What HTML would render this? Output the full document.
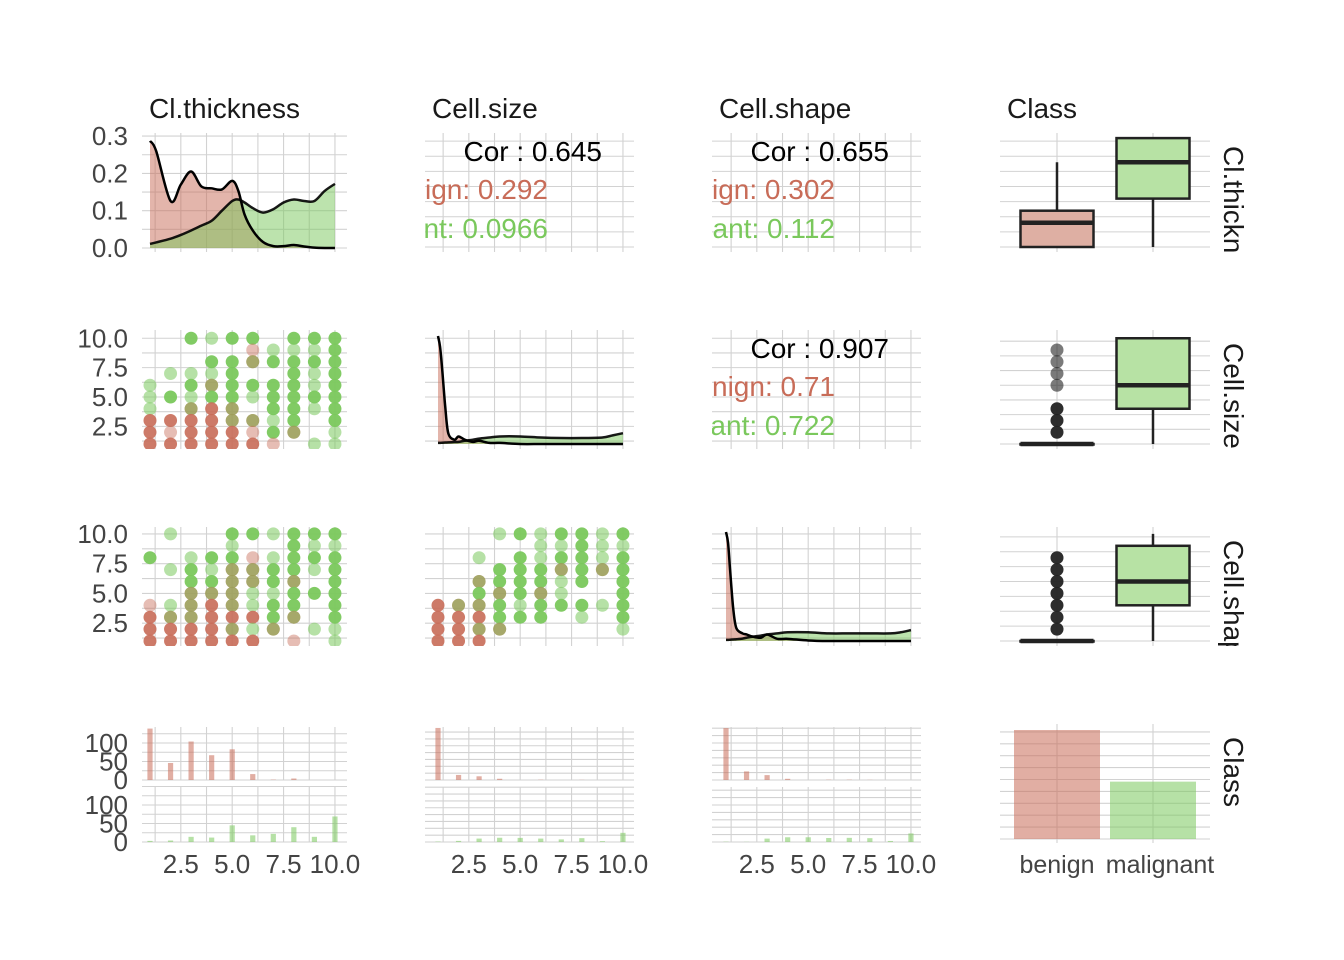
<!DOCTYPE html>
<html><head><meta charset="utf-8"><style>
html,body{margin:0;padding:0;background:#fff}
svg{display:block}
text{font-family:"Liberation Sans",sans-serif}
</style></head><body>
<svg id="c" width="1344" height="960" viewBox="0 0 1344 960"></svg>
<script>
// ---- data ----
const vars = ["Cl.thickness","Cell.size","Cell.shape","Class"];
const classes = ["benign","malignant"];
const classCounts = [458, 241];
const densX = [1,1.3,2,2.5,3,3.5,4,4.5,5,5.3,5.6,6,6.5,7,7.5,8,8.5,9,9.5,10];
const densBenign1 = [0.287,0.26,0.126,0.17,0.205,0.165,0.16,0.157,0.18,0.153,0.09,0.047,0.016,0.005,0.005,0.008,0.004,0.001,0,0];
const densMalig1 = [0.011,0.015,0.025,0.035,0.047,0.06,0.073,0.1,0.126,0.13,0.122,0.107,0.095,0.104,0.122,0.13,0.126,0.126,0.153,0.172];
const densX2 = [1,1.1,1.2,1.35,1.5,1.8,2,2.3,2.7,3,3.5,4,5,6,7,8,9,9.5,10];
const densBenign2 = [1,0.9,0.7,0.35,0.1,0.04,0.07,0.04,0.02,0.03,0.01,0.01,0,0,0,0,0,0,0];
const densMalig2 = [0.01,0.01,0.012,0.014,0.015,0.018,0.02,0.03,0.04,0.05,0.06,0.07,0.07,0.06,0.055,0.055,0.06,0.08,0.1];
const densBenign3 = [1,0.9,0.65,0.3,0.12,0.07,0.06,0.04,0.03,0.06,0.02,0.02,0.005,0,0,0,0,0,0];
const densMalig3 = [0.01,0.01,0.012,0.014,0.016,0.022,0.03,0.04,0.05,0.06,0.07,0.08,0.08,0.07,0.07,0.07,0.07,0.08,0.1];
const corAll = ["0.645","0.655","0.907"];
const corBen = ["0.292","0.302","0.71"];
const corMal = ["0.0966","0.112","0.722"];
const ptsSizeThick = [
[1,6,'g'],[1,5,'g'],[1,4,'g'],[1,3,'R'],[1,2,'R'],[1,1,'R'],
[2,7,'g'],[2,5,'G'],[2,3,'R'],[2,2,'r'],[2,1,'R'],
[3,10,'G'],[3,7,'g'],[3,6,'G'],[3,5,'g'],[3,4,'M'],[3,3,'R'],[3,2,'R'],[3,1,'R'],
[4,10,'g'],[4,8,'G'],[4,7,'g'],[4,6,'M'],[4,5,'G'],[4,4,'R'],[4,3,'R'],[4,2,'R'],[4,1,'R'],
[5,10,'G'],[5,8,'G'],[5,7,'G'],[5,6,'G'],[5,5,'G'],[5,4,'M'],[5,3,'M'],[5,2,'R'],[5,1,'R'],
[6,10,'G'],[6,9,'r'],[6,8,'M'],[6,6,'G'],[6,5,'g'],[6,3,'M'],[6,2,'r'],[6,1,'R'],
[7,9,'g'],[7,8,'G'],[7,6,'G'],[7,5,'G'],[7,4,'G'],[7,3,'g'],[7,2,'G'],[7,1,'r'],
[8,10,'G'],[8,9,'g'],[8,8,'G'],[8,7,'G'],[8,6,'G'],[8,5,'G'],[8,4,'G'],[8,3,'G'],[8,2,'M'],
[9,10,'G'],[9,9,'g'],[9,8,'G'],[9,7,'g'],[9,6,'g'],[9,5,'G'],[9,4,'g'],[9,1,'g'],
[10,10,'G'],[10,9,'G'],[10,8,'G'],[10,7,'G'],[10,6,'G'],[10,5,'G'],[10,4,'G'],[10,3,'G'],[10,2,'g'],[10,1,'g']];
const ptsShapeThick = [
[1,8,'G'],[1,4,'r'],[1,3,'R'],[1,2,'R'],[1,1,'R'],
[2,10,'g'],[2,7,'g'],[2,4,'g'],[2,3,'M'],[2,2,'R'],[2,1,'R'],
[3,8,'g'],[3,7,'G'],[3,6,'G'],[3,5,'M'],[3,4,'M'],[3,3,'M'],[3,2,'R'],[3,1,'R'],
[4,8,'G'],[4,7,'g'],[4,6,'G'],[4,5,'M'],[4,4,'R'],[4,3,'R'],[4,2,'R'],[4,1,'R'],
[5,10,'G'],[5,9,'g'],[5,8,'G'],[5,7,'M'],[5,6,'M'],[5,5,'M'],[5,4,'M'],[5,3,'R'],[5,2,'M'],[5,1,'R'],
[6,10,'G'],[6,8,'r'],[6,7,'M'],[6,6,'M'],[6,5,'g'],[6,4,'g'],[6,3,'R'],[6,2,'g'],[6,1,'R'],
[7,10,'g'],[7,8,'g'],[7,7,'G'],[7,6,'G'],[7,5,'g'],[7,4,'G'],[7,3,'G'],[7,2,'M'],
[8,10,'G'],[8,9,'G'],[8,8,'G'],[8,7,'G'],[8,6,'M'],[8,5,'G'],[8,4,'G'],[8,3,'M'],[8,1,'r'],
[9,10,'G'],[9,9,'g'],[9,8,'G'],[9,7,'g'],[9,5,'G'],[9,2,'g'],
[10,10,'G'],[10,9,'g'],[10,8,'G'],[10,7,'G'],[10,6,'G'],[10,5,'G'],[10,4,'G'],[10,3,'G'],[10,2,'g'],[10,1,'g']];
const ptsShapeSize = [
[1,4,'R'],[1,3,'R'],[1,2,'R'],[1,1,'R'],
[2,4,'M'],[2,3,'R'],[2,2,'R'],[2,1,'R'],
[3,8,'g'],[3,6,'M'],[3,5,'G'],[3,4,'M'],[3,3,'R'],[3,2,'M'],[3,1,'R'],
[4,10,'g'],[4,7,'G'],[4,6,'G'],[4,5,'M'],[4,4,'G'],[4,3,'G'],[4,2,'M'],
[5,10,'G'],[5,8,'G'],[5,7,'G'],[5,6,'G'],[5,5,'G'],[5,4,'g'],[5,3,'G'],
[6,10,'g'],[6,9,'g'],[6,8,'g'],[6,7,'G'],[6,6,'G'],[6,5,'M'],[6,4,'G'],[6,3,'G'],
[7,10,'G'],[7,9,'g'],[7,8,'G'],[7,7,'M'],[7,6,'g'],[7,5,'g'],[7,4,'G'],
[8,10,'G'],[8,9,'G'],[8,8,'G'],[8,7,'G'],[8,6,'G'],[8,4,'G'],[8,3,'g'],
[9,10,'g'],[9,9,'g'],[9,8,'g'],[9,7,'M'],[9,4,'g'],
[10,10,'G'],[10,9,'g'],[10,8,'G'],[10,7,'G'],[10,6,'G'],[10,5,'G'],[10,4,'G'],[10,3,'G'],[10,2,'g']];
const histValues = [1,2,3,4,5,6,7,8,9,10];
const histBenThick = [139,46,104,67,83,16,1,4,0,0];
const histMalThick = [3,4,14,12,45,18,22,40,14,69];
const histBenSize = [380,37,27,9,0,2,0,1,0,0];
const histMalSize = [3,8,25,31,30,25,19,28,6,67];
const histBenShape = [351,58,33,8,0,2,2,1,0,0];
const histMalShape = [2,1,23,32,32,27,28,26,7,58];
const boxThick = [[1,1,3,4,8],[1,5,8,10,10]];
const boxSize = [[1,1,1,1,1],[1,4,6,10,10]];
const boxShape = [[1,1,1,1,1],[1,4,6,9,10]];
const outSize = [2,3,4,6,7,8,9];
const outShape = [2,3,4,5,6,7,8];
const xTicks = [2.5,5,7.5,10];
const xTickLabels = ["2.5","5.0","7.5","10.0"];
const yTicks1 = [0,0.1,0.2,0.3];
const yTickLabels1 = ["0.0","0.1","0.2","0.3"];
const yTickLabels2 = ["2.5","5.0","7.5","10.0"];
const histTicks = [0,50,100];

// ---- layout ----
const svg = document.getElementById('c');
const NS = 'http://www.w3.org/2000/svg';
const colX = [[142,347],[425,634],[712,921],[1000,1210]];
const rowY = [[133,252],[330,449],[527,646],[724,843]];
const x1 = [150,438,726];
const UX = 20.55;
const RED = 'rgb(200,108,88)', GRN = 'rgb(122,200,92)';
const GRID = '#d2d2d2', TXT = '#444';
function el(tag, attrs, parent){const e=document.createElementNS(NS,tag);for(const k in attrs)e.setAttribute(k,attrs[k]);(parent||svg).appendChild(e);return e;}
function xs(c,v){return x1[c]+(v-1)*UX;}
const yRow = [v=>248-v*373, v=>444-(v-1)*11.75, v=>641-(v-1)*11.9];
function yVal(r,v){return r===0? 247-(v-1)*12.1 : yRow[r](v);}

const defs = el('defs',{});
for(let r=0;r<4;r++)for(let c=0;c<4;c++){
  const cp=el('clipPath',{id:`cp${r}${c}`},defs);
  el('rect',{x:colX[c][0],y:rowY[r][0],width:colX[c][1]-colX[c][0],height:rowY[r][1]-rowY[r][0]},cp);
}
function hline(g,c,y){const l=el('line',{x1:colX[c][0],x2:colX[c][1],y1:y,y2:y,stroke:GRID,'stroke-width':1.1},g);}
function vline(g,x,r,y0,y1){const l=el('line',{x1:x,x2:x,y1:y0!==undefined?y0:rowY[r][0],y2:y1!==undefined?y1:rowY[r][1],stroke:GRID,'stroke-width':1.1},g);}
function txt(s,x,y,attrs,parent){const t=el('text',Object.assign({x:x,y:y,'font-size':26,fill:TXT},attrs||{}),parent);t.textContent=s;return t;}

for(let r=0;r<4;r++)for(let c=0;c<3;c++){
  if(r===3)continue;
  const g=el('g',{'clip-path':`url(#cp${r}${c})`});
  
  
  for(const v of [1.25,2.5,3.75,5,6.25,7.5,8.75,10]) vline(g,xs(c,v),r);
  if(r===0){ if(c===0){for(let v=0;v<=0.3001;v+=0.05)hline(g,c,yRow[0](v));} else {for(let v=1;v<=10;v+=1.25)hline(g,c,yVal(0,v));} }
  else { for(let v=1.25;v<=10.01;v+=1.25)hline(g,c,yRow[r](v)); }
}
vars.forEach((v,i)=>{const t=txt(v,colX[i][0]+7,118,{'font-size':28,fill:'#1a1a1a'});});
for(let r=0;r<4;r++){
  const cp=el('clipPath',{id:`cps${r}`},defs);
  el('rect',{x:1215,y:rowY[r][0],width:50,height:rowY[r][1]-rowY[r][0]},cp);
  const g=el('g',{'clip-path':`url(#cps${r})`});
  const t=txt(vars[r],1224,rowY[r][0]+13,{'font-size':28,fill:'#1a1a1a',transform:`rotate(90 1224 ${rowY[r][0]+13})`},g);
  
  
}
// smooth path helper (Catmull-Rom)
function smooth(pts){
  let d=`M${pts[0][0]},${pts[0][1]}`;
  for(let i=0;i<pts.length-1;i++){
    const p0=pts[Math.max(0,i-1)],p1=pts[i],p2=pts[i+1],p3=pts[Math.min(pts.length-1,i+2)];
    const c1=[p1[0]+(p2[0]-p0[0])/6,p1[1]+(p2[1]-p0[1])/6];
    const c2=[p2[0]-(p3[0]-p1[0])/6,p2[1]-(p3[1]-p1[1])/6];
    d+=` C${c1[0]},${c1[1]} ${c2[0]},${c2[1]} ${p2[0]},${p2[1]}`;
  }
  return d;
}
function drawDensity(r,c,xA,ben,mal,yf){
  const g=el('g',{'clip-path':`url(#cp${r}${c})`});
  
  
  [[ben,RED,'benign'],[mal,GRN,'malignant']].forEach(([vals,col,nm])=>{
    const pts=xA.map((x,i)=>[xs(c,x),yf(vals[i])]);
    const line=smooth(pts);
    const area=line+` L${pts[pts.length-1][0]},${yf(0)} L${pts[0][0]},${yf(0)} Z`;
    const p=el('path',{d:area,fill:col,'fill-opacity':0.5},g);
    
  });
  [[ben,1],[mal,0.9]].forEach(([vals,o])=>{
    const pts=xA.map((x,i)=>[xs(c,x),yf(vals[i])]);
    el('path',{d:smooth(pts),fill:'none',stroke:'#000','stroke-width':2.5,'stroke-opacity':o},g);
  });
}
drawDensity(0,0,densX,densBenign1,densMalig1,yRow[0]);
drawDensity(1,1,densX2,densBenign2,densMalig2,v=>444-v*108);
drawDensity(2,2,densX2,densBenign3,densMalig3,v=>641-v*109);
// correlation panels
[[0,1,0],[0,2,1],[1,2,2]].forEach(([r,c,k])=>{
  const g=el('g',{'clip-path':`url(#cp${r}${c})`});
  
  
  const xe=colX[c][0]+177, y0=rowY[r][0]+28;
  txt('Cor : '+corAll[k],xe,y0,{'font-size':28,fill:'#000','text-anchor':'end'},g);
  txt('benign: '+corBen[k],xe-54,y0+38,{'font-size':28,fill:RED,'text-anchor':'end'},g);
  txt('malignant: '+corMal[k],xe-54,y0+77,{'font-size':28,fill:GRN,'text-anchor':'end'},g);
});
function drawScatter(r,c,pts){
  const g=el('g',{'clip-path':`url(#cp${r}${c})`});
  
  
  pts.forEach(([x,y,k])=>{
    const cx=xs(c,x), cy=yRow[r](y);
    let circ;
    if(k==='R')circ=el('circle',{cx,cy,r:6.5,fill:RED,'fill-opacity':0.9},g);
    else if(k==='r')circ=el('circle',{cx,cy,r:6.5,fill:RED,'fill-opacity':0.45},g);
    else if(k==='G')circ=el('circle',{cx,cy,r:6.5,fill:GRN,'fill-opacity':0.95},g);
    else if(k==='g')circ=el('circle',{cx,cy,r:6.5,fill:GRN,'fill-opacity':0.55},g);
    else {el('circle',{cx,cy,r:6.5,fill:RED,'fill-opacity':0.8},g);circ=el('circle',{cx,cy,r:6.5,fill:GRN,'fill-opacity':0.5},g);}
    
    
  });
}
drawScatter(1,0,ptsSizeThick);
drawScatter(2,0,ptsShapeThick);
drawScatter(2,1,ptsShapeSize);
const boxX=[1057,1153];
const boxes=[boxThick,boxSize,boxShape];
const outs=[[],outSize,outShape];
for(let r=0;r<3;r++){
  const g=el('g',{'clip-path':`url(#cp${r}3)`});
  
  
  for(let v=1;v<=10.01;v+=1.25)hline(g,3,yVal(r,v));
  boxX.forEach(x=>vline(g,x,r));
  boxes[r].forEach((s,i)=>{
    const x=boxX[i], w=73;
    el('line',{x1:x,x2:x,y1:yVal(r,s[0]),y2:yVal(r,s[4]),stroke:'#222','stroke-width':2.5},g);
    const b=el('rect',{x:x-w/2,y:yVal(r,s[3]),width:w,height:Math.max(0.5,yVal(r,s[1])-yVal(r,s[3])),fill:i?'rgb(183,226,164)':'rgb(222,175,163)',stroke:'#222','stroke-width':2.5},g);
    
    
    el('line',{x1:x-w/2,x2:x+w/2,y1:yVal(r,s[2]),y2:yVal(r,s[2]),stroke:'#222','stroke-width':4.5},g);
  });
  outs[r].forEach(v=>{const o=el('circle',{cx:boxX[0],cy:yVal(r,v),r:6.5,fill:'#222','fill-opacity':v<=4||r===2?0.95:0.6},g);});
}
const hb=[histBenThick,histBenSize,histBenShape], hm=[histMalThick,histMalSize,histMalShape];
const hscale=[0.37,0.137,0.148];
for(let c=0;c<3;c++){
  const g=el('g',{'clip-path':`url(#cp3${c})`});
  
  
  const step=c===0?25:50;
  [[727,780],[787,842]].forEach(([t,b],k)=>{
    for(let v=0;b-v*hscale[c]>=t-1;v+=step)hline(g,c,b-v*hscale[c]);
    for(const v of [1.25,2.5,3.75,5,6.25,7.5,8.75,10])vline(g,xs(c,v),3,t,b);
    const arr=k?hm[c]:hb[c];
    histValues.forEach((xv,i)=>{
      const h=Math.min(arr[i]*hscale[c],b-t+2);
      const br=el('rect',{x:xs(c,xv)-2.6,y:b-h,width:5.2,height:h,fill:k?GRN:RED,'fill-opacity':0.55},g);
      
      
    });
  });
}
{
  const g=el('g',{'clip-path':'url(#cp33)'});
  
  
  const b=839, sc=109/458;
  for(let v=0;b-v*sc>=726;v+=50)hline(g,3,b-v*sc);
  boxX.forEach(x=>vline(g,x,3));
  classCounts.forEach((n,i)=>{
    const r=el('rect',{x:boxX[i]-43,y:b-n*sc,width:86,height:n*sc,fill:i?GRN:RED,'fill-opacity':0.55},g);
    
    
  });
}
yTicks1.forEach((v,i)=>{const t=txt(yTickLabels1[i],128,yRow[0](v)+9,{'text-anchor':'end'});});
[1,2].forEach(r=>xTicks.forEach((v,i)=>{const t=txt(yTickLabels2[i],128,yRow[r](v)+9,{'text-anchor':'end'});}));
[780,842].forEach(b=>histTicks.forEach(v=>{const t=txt(String(v),128,b-v*hscale[0]+9,{'text-anchor':'end'});}));
for(let c=0;c<3;c++)xTicks.forEach((v,i)=>{const t=txt(xTickLabels[i],xs(c,v),873,{'text-anchor':'middle'});});
classes.forEach((s,i)=>{const t=txt(s,boxX[i]+(i?7:0),873,{'text-anchor':'middle','font-size':25});});
</script>
</body></html>
